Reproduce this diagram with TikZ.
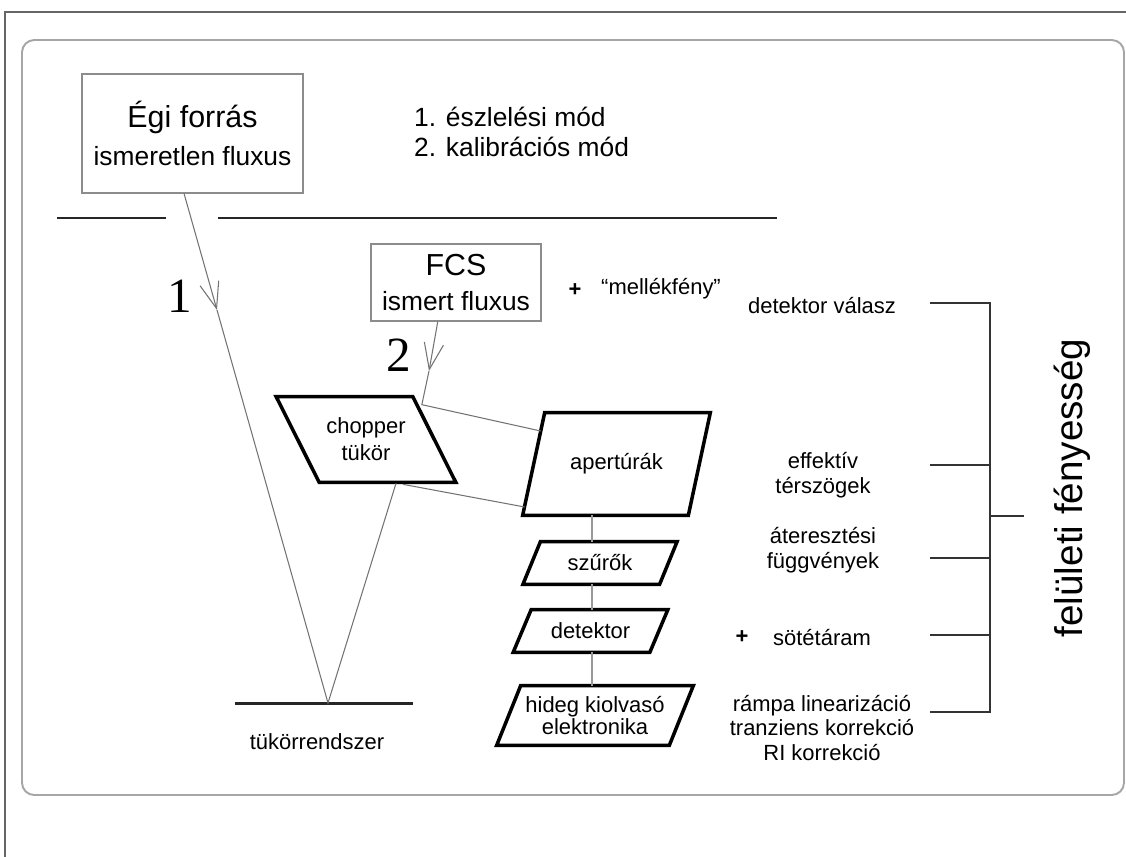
\documentclass[tikz,border=0pt]{standalone}
\usepackage{fontspec}
\setmainfont{Liberation Sans}
\newfontfamily\numfont{Liberation Serif}
\usetikzlibrary{shapes, arrows.meta, calc, positioning}

\begin{document}
\begin{tikzpicture}[
  x=0.02cm, y=-0.02cm,
  box/.style={rectangle, draw=black!45, line width=0.7pt, align=center, inner sep=0pt},
  para/.style={rectangle, align=center, inner sep=0pt, font=\fontsize{12.5}{15.4}\selectfont},
  pline/.style={line width=2pt, line join=miter},
  beam/.style={black!55, line width=0.6pt},
  tip/.style={-{Straight Barb[length=15pt, width=11pt]}},
  link/.style={black!40, line width=0.9pt},
  baffle/.style={black!85, line width=1.7pt},
  brk/.style={black!80, line width=1.1pt},
  lbl/.style={align=center, font=\fontsize{12.5}{14}\selectfont},
  num/.style={font=\numfont\fontsize{28}{28}\selectfont}]

  \useasboundingbox (0,0) rectangle (1126,856);
  \clip (0,0) rectangle (1126,856);

  % frames
  \draw[black!60, line width=0.6pt] (5,12) rectangle (1160,900);
  \draw[black!35, line width=1.1pt, rounded corners=7pt] (22,40) rectangle (1124,795);

  % sources
  \node[box, minimum width=4.42cm, minimum height=2.38cm, font=\fontsize{17.3}{22}\selectfont]
    (egi) at (192.5,133.5) {Égi forrás\\\fontsize{15}{22}\selectfont ismeretlen fluxus};
  \node[box, minimum width=3.4cm, minimum height=1.54cm, font=\fontsize{17.3}{20}\selectfont]
    (fcs) at (456,282.5) {FCS\\\fontsize{15}{20}\selectfont ismert fluxus};
  \node[align=left, anchor=west, font=\fontsize{15}{17}\selectfont] (modes) at (408,132)
    {1. észlelési mód\\2. kalibrációs mód};

  \draw[baffle] (57,218) -- (166,218);
  \draw[baffle] (218,218) -- (777,218);

  % optical chain
  \node[para, minimum width=2.72cm, minimum height=1.7cm] (chop) at (366,439.5) {chopper\\tükör};
  \node[para, minimum width=3.3cm, minimum height=2.04cm] (apert) at (616.5,464) {apertúrák};
  \node[para, minimum width=2.72cm, minimum height=0.84cm] (szur) at (600,563) {szűrők};
  \node[para, minimum width=2.72cm, minimum height=0.84cm] (det) at (590.5,631) {detektor};
  \node[para, minimum width=3.44cm, minimum height=1.18cm, font=\fontsize{12.5}{13}\selectfont]
    (hideg) at (595,715.5) {hideg kiolvasó\\elektronika};
  \foreach \n/\d in {chop/-21.5, apert/11, szur/8.75, det/9, hideg/12}
    \draw[pline] ($(\n.south west)+(-1*\d,0)$) -- ($(\n.north west)+(\d,0)$)
      -- ($(\n.north east)+(\d,0)$) -- ($(\n.south east)+(-1*\d,0)$) -- cycle;

  \draw[baffle] (235,703) -- (413,703);
  \node[lbl] (mirror) at (317,742) {tükörrendszer};

  \node[num] (n1) at (180,296) {1};
  \node[num] (n2) at (399,355) {2};

  \coordinate (t1) at (217,310);
  \coordinate (refl) at (328,703);
  \coordinate (t2) at (429,371);
  \coordinate (c1) at ($(chop.north east)+(-12.5,8)$);
  \coordinate (c2) at ($(chop.south)+(30,1)$);
  \coordinate (c3) at ($(chop.south)+(37,2)$);
  \coordinate (a1) at ($(apert.west)+(7,-33)$);
  \coordinate (a2) at ($(apert.west)+(-9,43)$);
  \coordinate (col) at (592,0);

  \draw[beam] (egi.262) edge[tip] (t1) (t1) -- (refl) -- (c2);
  \draw[beam] (fcs.245) edge[tip] (t2) (t2) -- (c1) -- (a1);
  \draw[beam] (c3) -- (a2);

  \draw[link] (apert.south -| col) -- (szur.north -| col);
  \draw[link] (szur.south -| col) -- (det.north -| col);
  \draw[link] (det.south -| col) -- (hideg.north -| col);

  % corrections
  \node[lbl] (plus1) at (575,290) {\textbf{+}};
  \node[lbl, anchor=west] (side) at (595,289) {“mellékfény”};
  \node[lbl] (resp) at (822,306) {detektor válasz};
  \node[lbl] (solid) at (823,475) {effektív\\térszögek};
  \node[lbl] (trans) at (823,550) {áteresztési\\függvények};
  \node[lbl] (plus2) at (742,637) {\textbf{+}};
  \node[lbl] (dark) at (822,638) {sötétáram};
  \node[lbl] (ramp) at (822,728) {rámpa linearizáció\\tranziens korrekció\\RI korrekció};

  \draw[brk] (930,303) -- (990,303) -- (990,712) -- (930,712);
  \foreach \y in {465,558,635}
    \draw[brk] (930,\y) -- (990,\y);
  \draw[brk] (990,516) -- (1024,516);
  \node[rotate=90, font=\fontsize{22}{22}\selectfont] (surf) at (1072,488) {felületi fényesség};
\end{tikzpicture}
\end{document}
